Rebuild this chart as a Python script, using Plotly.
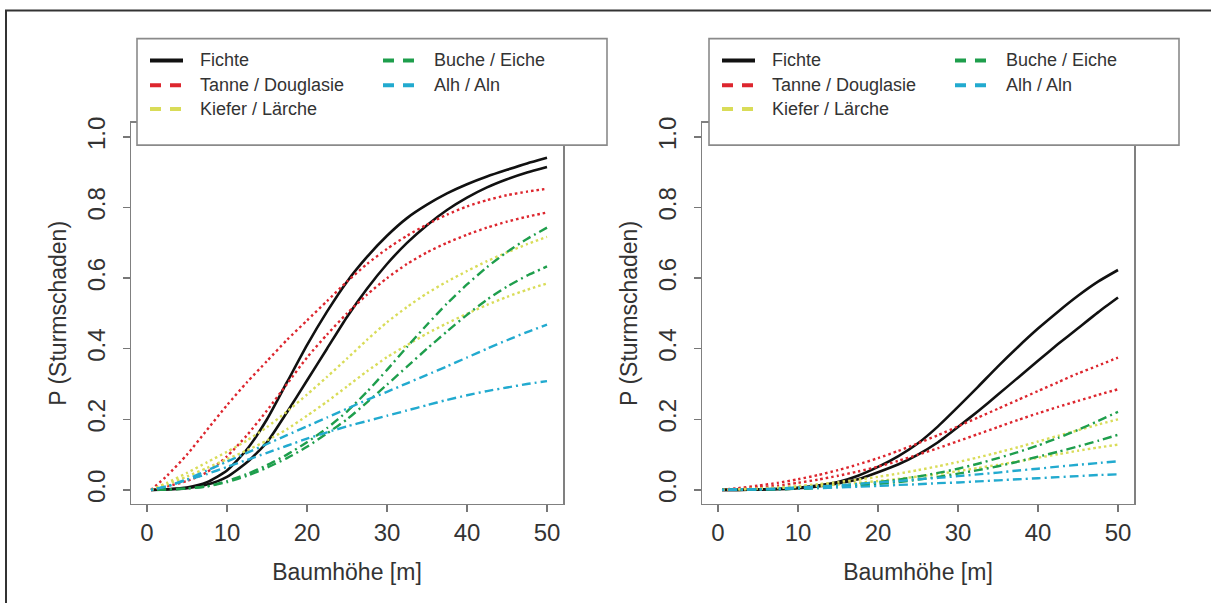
import plotly.graph_objects as go

# ---------------- data ----------------
hoehe = [0.5, 2.5, 5, 7.5, 10, 12.5, 15, 17.5, 20, 22.5, 25, 27.5, 30, 32.5, 35, 37.5, 40, 42.5, 45, 47.5, 50]

arten = ["Fichte", "Tanne / Douglasie", "Kiefer / Lärche", "Buche / Eiche", "Alh / Aln"]
farben = ["#111111", "#DD262E", "#D9DC58", "#1E9E4C", "#22AACF"]

# left panel, two curves per species
links_fichte_a = [0.0, 0.002, 0.007, 0.022, 0.055, 0.115, 0.2, 0.305, 0.41, 0.505, 0.59, 0.66, 0.72, 0.77, 0.808, 0.84, 0.866, 0.888, 0.907, 0.925, 0.941]
links_fichte_b = [0.0, 0.001, 0.005, 0.015, 0.037, 0.078, 0.135, 0.22, 0.31, 0.4, 0.49, 0.57, 0.64, 0.7, 0.75, 0.793, 0.828, 0.857, 0.88, 0.899, 0.915]
links_tanne_a = [0.0, 0.04, 0.1, 0.17, 0.24, 0.305, 0.365, 0.425, 0.48, 0.535, 0.59, 0.64, 0.683, 0.72, 0.752, 0.78, 0.803, 0.821, 0.835, 0.845, 0.853]
links_tanne_b = [0.0, 0.01, 0.025, 0.05, 0.095, 0.155, 0.225, 0.3, 0.375, 0.44, 0.5, 0.553, 0.6, 0.64, 0.673, 0.7, 0.723, 0.743, 0.76, 0.774, 0.786]
links_kiefer_a = [0.0, 0.02, 0.048, 0.078, 0.108, 0.14, 0.178, 0.222, 0.27, 0.32, 0.372, 0.425, 0.475, 0.518, 0.557, 0.59, 0.62, 0.648, 0.673, 0.696, 0.717]
links_kiefer_b = [0.0, 0.015, 0.038, 0.062, 0.087, 0.112, 0.14, 0.172, 0.21, 0.25, 0.293, 0.336, 0.376, 0.41, 0.443, 0.472, 0.499, 0.524, 0.547, 0.567, 0.585]
links_buche_a = [0.0, 0.001, 0.004, 0.01, 0.025, 0.045, 0.07, 0.1, 0.135, 0.175, 0.222, 0.278, 0.34, 0.405, 0.468, 0.528, 0.582, 0.631, 0.674, 0.711, 0.743]
links_buche_b = [0.0, 0.001, 0.004, 0.01, 0.022, 0.04, 0.063, 0.09, 0.122, 0.16, 0.2, 0.248, 0.298, 0.349, 0.4, 0.449, 0.496, 0.539, 0.576, 0.607, 0.633]
links_alh_a = [0.0, 0.01, 0.03, 0.055, 0.08, 0.105, 0.13, 0.155, 0.18, 0.205, 0.23, 0.255, 0.278, 0.302, 0.326, 0.35, 0.375, 0.4, 0.424, 0.447, 0.468]
links_alh_b = [0.0, 0.01, 0.028, 0.045, 0.065, 0.085, 0.105, 0.125, 0.145, 0.163, 0.18, 0.195, 0.21, 0.225, 0.24, 0.255, 0.268, 0.28, 0.29, 0.3, 0.308]

# right panel
rechts_fichte_a = [0.0, 0.0, 0.001, 0.003, 0.006, 0.012, 0.022, 0.04, 0.065, 0.095, 0.132, 0.18, 0.235, 0.292, 0.35, 0.405, 0.457, 0.505, 0.55, 0.59, 0.623]
rechts_fichte_b = [0.0, 0.0, 0.001, 0.002, 0.005, 0.01, 0.018, 0.03, 0.05, 0.072, 0.1, 0.135, 0.178, 0.223, 0.27, 0.318, 0.366, 0.413, 0.458, 0.503, 0.545]
rechts_tanne_a = [0.0, 0.005, 0.012, 0.02, 0.03, 0.042, 0.056, 0.072, 0.09, 0.11, 0.132, 0.155, 0.18, 0.205, 0.23, 0.255, 0.28, 0.305, 0.33, 0.352, 0.375]
rechts_tanne_b = [0.0, 0.003, 0.007, 0.012, 0.02, 0.029, 0.04, 0.052, 0.066, 0.082, 0.1, 0.118, 0.138, 0.158, 0.178, 0.198, 0.217, 0.235, 0.252, 0.269, 0.285]
rechts_kiefer_a = [0.0, 0.002, 0.004, 0.007, 0.011, 0.016, 0.022, 0.029, 0.037, 0.046, 0.056, 0.067, 0.079, 0.092, 0.106, 0.121, 0.137, 0.153, 0.169, 0.185, 0.2]
rechts_kiefer_b = [0.0, 0.001, 0.003, 0.005, 0.008, 0.011, 0.015, 0.02, 0.025, 0.031, 0.038, 0.045, 0.053, 0.062, 0.071, 0.081, 0.091, 0.101, 0.111, 0.12, 0.128]
rechts_buche_a = [0.0, 0.0, 0.001, 0.002, 0.004, 0.007, 0.011, 0.016, 0.022, 0.029, 0.038, 0.048, 0.06, 0.074, 0.09, 0.107, 0.126, 0.147, 0.17, 0.195, 0.221]
rechts_buche_b = [0.0, 0.0, 0.001, 0.002, 0.003, 0.005, 0.008, 0.012, 0.017, 0.022, 0.029, 0.037, 0.046, 0.056, 0.067, 0.08, 0.094, 0.108, 0.123, 0.139, 0.156]
rechts_alh_a = [0.0, 0.001, 0.002, 0.004, 0.007, 0.01, 0.013, 0.017, 0.021, 0.025, 0.03, 0.034, 0.039, 0.044, 0.049, 0.055, 0.06, 0.066, 0.071, 0.076, 0.081]
rechts_alh_b = [0.0, 0.001, 0.001, 0.002, 0.004, 0.005, 0.007, 0.009, 0.011, 0.014, 0.016, 0.019, 0.021, 0.024, 0.027, 0.03, 0.033, 0.036, 0.039, 0.042, 0.044]

x_ticks = [0, 10, 20, 30, 40, 50]
y_ticks = [0.0, 0.2, 0.4, 0.6, 0.8, 1.0]
x_titel = "Baumhöhe [m]"
y_titel = "P (Sturmschaden)"

# ---------------- styles ----------------
linien_stil = ["solid", "2.5px,3px", "2.5px,3px", "2px,4px,9px,4px", "2px,4px,9px,4px"]
linien_breite = [2.6, 2.4, 2.4, 2.4, 2.4]
legenden_stil = ["solid", "11px,9px", "11px,9px", "11px,9px", "11px,9px"]

links = [(links_fichte_a, links_fichte_b), (links_tanne_a, links_tanne_b),
         (links_kiefer_a, links_kiefer_b), (links_buche_a, links_buche_b),
         (links_alh_a, links_alh_b)]
rechts = [(rechts_fichte_a, rechts_fichte_b), (rechts_tanne_a, rechts_tanne_b),
          (rechts_kiefer_a, rechts_kiefer_b), (rechts_buche_a, rechts_buche_b),
          (rechts_alh_a, rechts_alh_b)]

W, H = 1211, 603
FONT = "Liberation Sans, Arial, Helvetica, sans-serif"

fig = go.Figure()
for panel, (serien, xa, ya) in enumerate([(links, "x", "y"), (rechts, "x2", "y2")]):
    for i, (a, b) in enumerate(serien):
        for werte in (a, b):
            fig.add_trace(go.Scatter(
                x=hoehe, y=werte, xaxis=xa, yaxis=ya, mode="lines",
                line=dict(color=farben[i], width=linien_breite[i], dash=linien_stil[i],
                          shape="spline", smoothing=0.6),
                name=arten[i], showlegend=False, hoverinfo="skip"))

def px_x(p):
    return p / W

def px_y(p):
    return 1 - p / H

dom_l = [131 / W, 563 / W]
dom_r = [702 / W, 1134 / W]
dom_y = [1 - 503 / H, 1 - 118 / H]

achse_x = dict(range=[-2, 52], tickvals=x_ticks, ticks="outside", ticklen=7, tickwidth=1.3,
               tickcolor="#777", showline=True, mirror=True, linecolor="#808080", linewidth=1.5,
               showgrid=False, zeroline=False, tickfont=dict(family=FONT, size=24, color="#333"),
               ticklabelstandoff=0,
               title=dict(text=x_titel, font=dict(family=FONT, size=23, color="#333"), standoff=18))
achse_y = dict(range=[-0.04, 1.04], tickvals=y_ticks, tickformat=".1f", ticks="outside", ticklen=7,
               tickwidth=1.3, tickcolor="#777", showline=True, mirror=True, linecolor="#808080",
               linewidth=1.5, showgrid=False, zeroline=False, tickangle=-90,
               tickfont=dict(family=FONT, size=24, color="#333"), ticklabelstandoff=8,
               title=dict(text=y_titel, font=dict(family=FONT, size=23, color="#333"), standoff=10))

fig.update_layout(
    width=W, height=H,
    margin=dict(l=0, r=0, t=0, b=0),
    paper_bgcolor="white", plot_bgcolor="white",
    showlegend=False,
    xaxis=dict(domain=dom_l, anchor="y", **achse_x),
    yaxis=dict(domain=dom_y, anchor="x", **achse_y),
    xaxis2=dict(domain=dom_r, anchor="y2", **achse_x),
    yaxis2=dict(domain=dom_y, anchor="x2", **achse_y),
)

shapes = []
annots = []
# outer frame (top and left edges visible)
shapes.append(dict(type="rect", xref="paper", yref="paper", x0=px_x(6), x1=px_x(1230), y0=px_y(625), y1=px_y(4.5),
                   line=dict(color="#333", width=2), fillcolor="rgba(0,0,0,0)", layer="above"))

# legends drawn from the species lists
reihen_y = [55, 80, 104]
for links_kante in (137, 709):
    shapes.append(dict(type="rect", xref="paper", yref="paper",
                       x0=px_x(links_kante), x1=px_x(links_kante + 470), y0=px_y(140.5), y1=px_y(33),
                       line=dict(color="#8a8a8a", width=1.6), fillcolor="white", layer="above"))
    for i, name in enumerate(arten):
        spalte = 0 if i < 3 else 1
        reihe = i if i < 3 else i - 3
        sx0 = links_kante + (13 if spalte == 0 else 246)
        tx = links_kante + (61 if spalte == 0 else 295)
        yy = reihen_y[reihe]
        shapes.append(dict(type="line", xref="paper", yref="paper",
                           x0=px_x(sx0), x1=px_x(sx0 + 33), y0=px_y(yy), y1=px_y(yy),
                           line=dict(color=farben[i], width=4, dash=legenden_stil[i]), layer="above"))
        annots.append(dict(xref="paper", yref="paper", x=px_x(tx), y=px_y(yy), xanchor="left", yanchor="middle",
                           text=name, showarrow=False, font=dict(family=FONT, size=18, color="#333")))

fig.update_layout(shapes=shapes, annotations=annots)
fig.write_html("out.html", config={"displayModeBar": False, "staticPlot": True},
               post_script="document.body.style.margin='0';document.body.style.overflow='hidden';")
